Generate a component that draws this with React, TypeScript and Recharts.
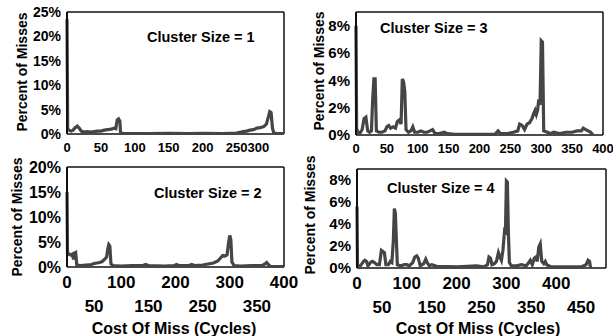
import React from "react";
import { LineChart, Line, XAxis, YAxis, CartesianGrid } from "recharts";

// cost of miss (cycles) vs percent of misses, one pair of arrays per cluster size
const costs1 = [0, 1, 3, 6, 9, 12, 15, 18, 21, 25, 30, 35, 40, 45, 50, 55, 60, 65, 70, 72, 74, 76, 78, 79, 85, 100, 120, 150, 180, 200, 230, 250, 260, 265, 270, 275, 280, 285, 290, 294, 297, 299, 301, 303, 305, 310, 320];
const misses1 = [23.5, 1.0, 0.8, 0.6, 0.8, 1.3, 1.6, 1.2, 0.6, 0.4, 0.5, 0.4, 0.5, 0.6, 0.6, 0.8, 0.9, 1.0, 1.2, 1.1, 2.9, 3.1, 2.6, 0.2, 0.1, 0.1, 0.1, 0.15, 0.1, 0.15, 0.1, 0.2, 0.5, 0.6, 0.8, 0.9, 1.2, 1.3, 1.5, 2.0, 3.5, 4.6, 4.4, 1.2, 0.2, 0.1, 0.1];

const costs3 = [0, 1, 3, 6, 10, 13, 16, 19, 22, 25, 27, 29, 31, 33, 37, 42, 47, 50, 53, 56, 60, 64, 67, 70, 73, 75, 77, 79, 81, 85, 89, 92, 95, 100, 105, 110, 115, 120, 124, 128, 135, 143, 148, 160, 200, 225, 230, 234, 245, 255, 262, 265, 269, 273, 277, 281, 285, 288, 290, 292, 294, 296, 298, 300, 302, 304, 310, 315, 320, 330, 340, 350, 358, 365, 368, 372, 376, 380, 384];
const misses3 = [8.0, 0.5, 0.2, 0.1, 0.4, 1.2, 1.3, 0.3, 0.2, 0.3, 2.6, 4.1, 4.1, 0.3, 0.2, 0.2, 0.3, 0.6, 0.7, 0.5, 0.6, 0.5, 1.0, 1.1, 0.8, 4.1, 3.9, 3.2, 0.4, 0.2, 0.3, 0.6, 0.2, 0.2, 0.3, 0.2, 0.2, 0.3, 0.4, 0.1, 0.1, 0.2, 0.1, 0.05, 0.05, 0.05, 0.3, 0.1, 0.1, 0.2, 0.3, 0.8, 0.7, 0.4, 0.8, 0.9, 1.2, 1.6, 1.8, 1.5, 1.8, 2.6, 2.2, 6.9, 6.8, 0.3, 0.2, 0.1, 0.2, 0.1, 0.2, 0.2, 0.3, 0.3, 0.5, 0.4, 0.3, 0.2, 0.0];

const costs2 = [0, 1, 4, 7, 10, 12, 14, 16, 18, 25, 35, 45, 50, 55, 60, 65, 70, 73, 75, 77, 79, 81, 85, 100, 120, 140, 145, 150, 180, 198, 202, 206, 225, 230, 235, 250, 260, 270, 278, 283, 287, 291, 295, 298, 300, 302, 304, 308, 320, 340, 360, 365, 368, 371, 375, 390, 400];
const misses2 = [15.0, 2.5, 2.6, 2.4, 2.6, 1.5, 2.8, 2.9, 0.4, 0.3, 0.4, 0.5, 0.7, 0.8, 0.9, 1.1, 1.6, 2.0, 3.5, 4.5, 4.2, 0.6, 0.3, 0.2, 0.3, 0.3, 0.5, 0.3, 0.2, 0.3, 0.5, 0.3, 0.3, 0.5, 0.3, 0.4, 0.6, 0.8, 1.2, 1.8, 2.3, 2.2, 2.4, 5.0, 6.3, 5.5, 1.0, 0.3, 0.2, 0.3, 0.3, 0.6, 0.9, 0.5, 0.1, 0.1, 0.1];

const costs4 = [0, 1, 5, 10, 13, 16, 19, 22, 27, 31, 35, 40, 45, 49, 52, 55, 58, 63, 67, 70, 73, 75, 77, 79, 81, 88, 95, 100, 105, 112, 116, 120, 123, 127, 134, 138, 141, 145, 150, 160, 200, 240, 255, 262, 265, 268, 271, 276, 280, 284, 287, 290, 293, 296, 298, 300, 302, 304, 306, 310, 320, 330, 340, 345, 348, 352, 356, 359, 362, 365, 368, 371, 375, 378, 381, 390, 420, 450, 460, 464, 467, 469];
const misses4 = [5.6, 0.3, 0.1, 0.4, 0.6, 0.7, 0.6, 0.2, 0.5, 0.6, 0.5, 0.3, 0.3, 1.6, 1.5, 1.4, 0.3, 0.3, 0.6, 0.5, 2.5, 5.4, 5.0, 2.6, 0.3, 0.2, 0.3, 0.3, 0.2, 0.5, 1.0, 1.1, 0.9, 0.2, 0.4, 0.8, 0.5, 0.2, 0.3, 0.15, 0.1, 0.2, 0.1, 0.3, 1.0, 0.9, 0.3, 0.4, 0.6, 1.4, 1.0, 0.7, 1.6, 3.2, 3.0, 7.9, 7.8, 3.2, 0.5, 0.2, 0.2, 0.3, 0.2, 0.5, 0.7, 0.3, 0.9, 1.0, 0.6, 1.9, 2.2, 0.6, 0.4, 0.6, 0.3, 0.1, 0.1, 0.1, 0.3, 0.7, 0.6, 0.0];

const xTicksTop1 = [0, 50, 100, 150, 200, 250, 300];
const xTicksTop3 = [0, 50, 100, 150, 200, 250, 300, 350, 400];
const xTicks2 = [0, 50, 100, 150, 200, 250, 300, 350, 400];
const xTicks4 = [0, 50, 100, 150, 200, 250, 300, 350, 400, 450];
const yTicks1 = [0, 5, 10, 15, 20, 25];
const yTicks2 = [0, 5, 10, 15, 20];
const yTicks34 = [0, 2, 4, 6, 8];

const FONT = "'Liberation Sans', Arial, Helvetica, sans-serif";
const LINE = "#454545";
const FRAME = "#111";

const rows = (costs: number[], vals: number[]) =>
  costs.map((c, i) => ({ cost: c, pct: vals[i] }));

const pct = (v: number) => `${v}%`;

// bottom panels put every other tick label on a second row
const StaggerTick = (props: any) => {
  const { x, y, payload, index } = props;
  return (
    <text
      x={x}
      y={y + (index % 2 ? 45 : 21)}
      textAnchor="middle"
      fontSize={17}
      fontWeight={700}
      fontFamily={FONT}
      fill="#000"
    >
      {payload.value}
    </text>
  );
};

// top panels: one row, the last label may sit a little to the left
const makeTopTick = (lastDx: number, count: number) => (props: any) => {
  const { x, y, payload, index } = props;
  return (
    <text
      x={x + (index === count - 1 ? lastDx : 0)}
      y={y + 18}
      textAnchor="middle"
      fontSize={13}
      fontWeight={700}
      fontFamily={FONT}
      fill="#000"
    >
      {payload.value}
    </text>
  );
};

interface PanelProps {
  left: number;
  top: number;
  width: number;
  height: number;
  margin: { top: number; right: number; left: number; bottom: number };
  yWidth: number;
  xHeight: number;
  data: { cost: number; pct: number }[];
  xMax: number;
  yMax: number;
  xTicks: number[];
  yTicks: number[];
  yFont: number;
  stagger?: boolean;
  lastDx?: number;
}

function Panel(p: PanelProps) {
  const TopTick = makeTopTick(p.lastDx ?? 0, p.xTicks.length);
  return (
    <div style={{ position: "absolute", left: p.left, top: p.top }}>
      <LineChart width={p.width} height={p.height} data={p.data} margin={p.margin}>
        {/* the plot frame */}
        <CartesianGrid
          horizontalValues={[0, p.yMax]}
          verticalValues={[0, p.xMax]}
          stroke={FRAME}
          strokeWidth={1.5}
          strokeDasharray=""
        />
        <XAxis
          type="number"
          dataKey="cost"
          domain={[0, p.xMax]}
          ticks={p.xTicks}
          interval={0}
          height={p.xHeight}
          axisLine={false}
          tickLine={false}
          tickSize={0}
          tickMargin={0}
          tick={p.stagger ? <StaggerTick /> : <TopTick />}
        />
        <YAxis
          type="number"
          domain={[0, p.yMax]}
          ticks={p.yTicks}
          interval={0}
          width={p.yWidth}
          axisLine={{ stroke: FRAME, strokeWidth: 2 }}
          tickLine={false}
          tickSize={0}
          tickMargin={6}
          tickFormatter={pct}
          tick={{ fontSize: p.yFont, fontWeight: 700, fill: "#000", fontFamily: FONT }}
        />
        <Line
          type="linear"
          dataKey="pct"
          stroke={LINE}
          strokeWidth={3.2}
          dot={false}
          isAnimationActive={false}
        />
      </LineChart>
    </div>
  );
}

export default function App() {
  const txt = { fontFamily: FONT, fontWeight: 700, fill: "#000" } as const;
  return (
    <div
      style={{
        position: "absolute",
        left: 0,
        top: 0,
        width: 613,
        height: 336,
        background: "#fff",
        overflow: "hidden",
      }}
    >
      <Panel
        left={0} top={0} width={300} height={160}
        margin={{ top: 12, right: 16, left: 0, bottom: 0 }}
        yWidth={67} xHeight={26}
        data={rows(costs1, misses1)} xMax={320} yMax={25}
        xTicks={xTicksTop1} yTicks={yTicks1} yFont={14} lastDx={-12}
      />
      <Panel
        left={300} top={0} width={313} height={160}
        margin={{ top: 12, right: 10, left: 0, bottom: 0 }}
        yWidth={56} xHeight={25}
        data={rows(costs3, misses3)} xMax={400} yMax={9}
        xTicks={xTicksTop3} yTicks={yTicks34} yFont={15}
      />
      <Panel
        left={0} top={160} width={300} height={176}
        margin={{ top: 7, right: 16, left: 0, bottom: 0 }}
        yWidth={67} xHeight={69}
        data={rows(costs2, misses2)} xMax={400} yMax={20}
        xTicks={xTicks2} yTicks={yTicks2} yFont={16} stagger
      />
      <Panel
        left={300} top={160} width={313} height={176}
        margin={{ top: 9, right: 7, left: 0, bottom: 0 }}
        yWidth={57} xHeight={68}
        data={rows(costs4, misses4)} xMax={500} yMax={9}
        xTicks={xTicks4} yTicks={yTicks34} yFont={15} stagger
      />
      <svg
        width={613}
        height={336}
        style={{ position: "absolute", left: 0, top: 0, pointerEvents: "none" }}
      >
        <text x={147} y={42} fontSize={14.5} {...txt}>Cluster Size = 1</text>
        <text x={380} y={33} fontSize={14.5} {...txt}>Cluster Size = 3</text>
        <text x={154} y={198} fontSize={14.5} {...txt}>Cluster Size = 2</text>
        <text x={387} y={193} fontSize={14.5} {...txt}>Cluster Size = 4</text>

        <text x={27} y={72} fontSize={14} textAnchor="middle" transform="rotate(-90 27 72)" {...txt}>Percent of Misses</text>
        <text x={324} y={71} fontSize={14} textAnchor="middle" transform="rotate(-90 324 71)" {...txt}>Percent of Misses</text>
        <text x={22} y={217} fontSize={14} textAnchor="middle" transform="rotate(-90 22 217)" {...txt}>Percent of Misses</text>
        <text x={315} y={215} fontSize={14} textAnchor="middle" transform="rotate(-90 315 215)" {...txt}>Percent of Misses</text>

        <text x={174} y={334} fontSize={16} textAnchor="middle" {...txt}>Cost Of Miss (Cycles)</text>
        <text x={478} y={334} fontSize={16} textAnchor="middle" {...txt}>Cost Of Miss (Cycles)</text>
      </svg>
    </div>
  );
}
